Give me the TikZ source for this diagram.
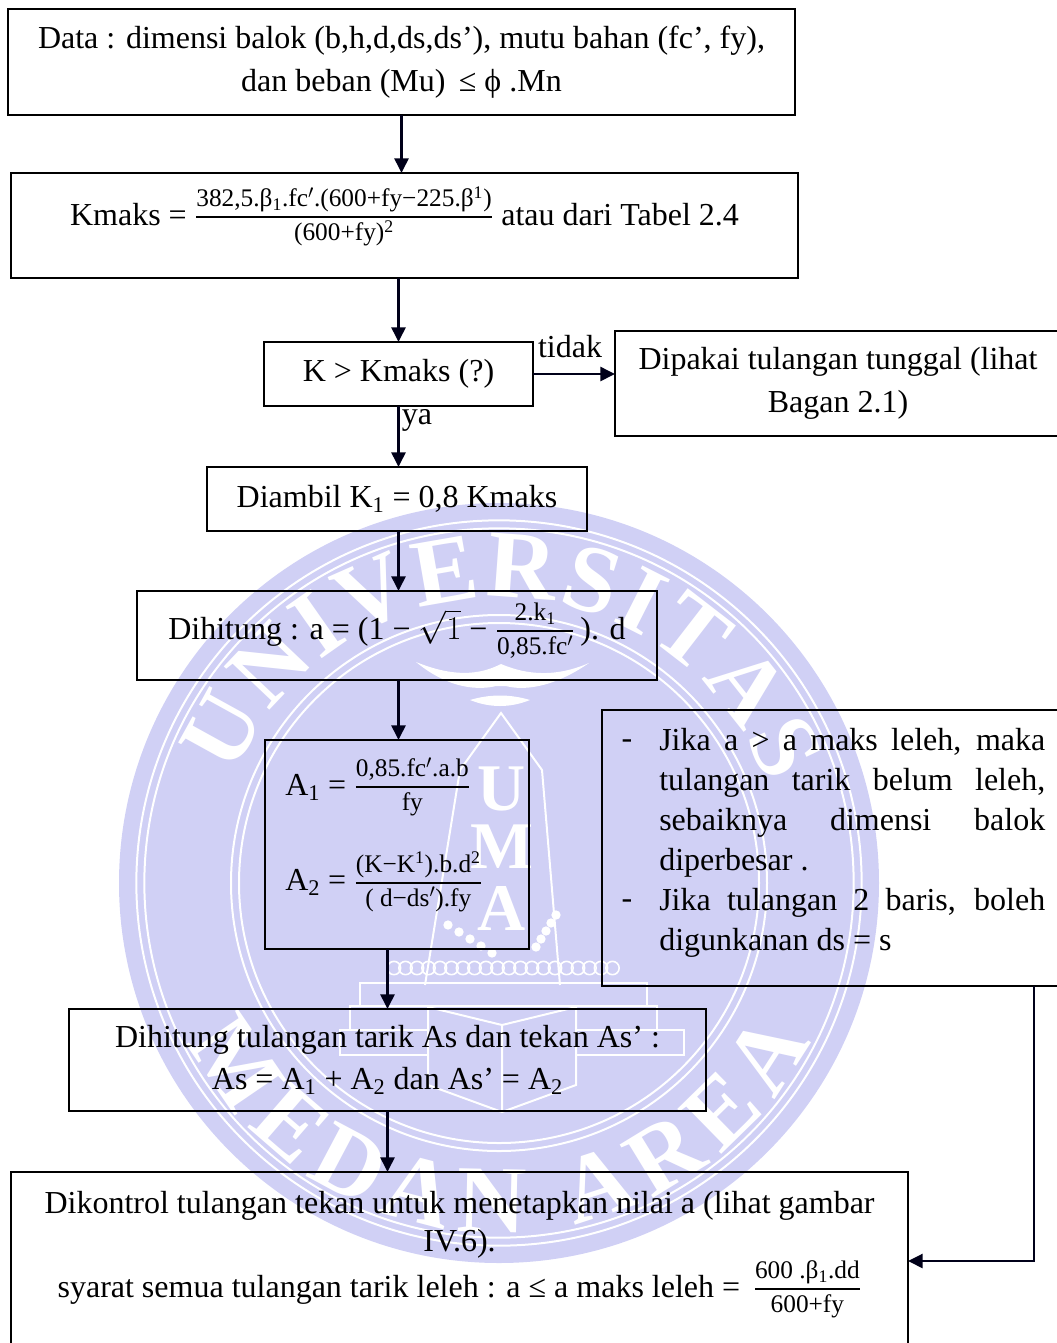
\documentclass[tikz,border=0pt]{standalone}
\usepackage{amsmath,amssymb}
\usepackage{fontspec}
\setmainfont{Liberation Serif}
\usepackage{tikz}
\usetikzlibrary{arrows.meta}
\usetikzlibrary{decorations.text}
\definecolor{wmbiru}{HTML}{D0D0F5}
\newcommand{\teks}{\fontsize{24}{32}\selectfont}
\newcommand{\kecil}{\fontsize{19}{22}\selectfont}
\newcommand{\wmhuruf}{\fontsize{72}{80}\selectfont\bfseries\color{white}}
\newcommand{\pecah}[2]{$\genfrac{}{}{1.5pt}{1}{\mbox{\kecil\rule[-5.5pt]{0pt}{5pt}#1}}{\mbox{\kecil\rule{0pt}{15.5pt}#2}}$}
\newcommand{\naik}[2]{\raisebox{#1}[0pt][0pt]{#2}}
\tikzstyle{kotak}=[draw=black,line width=.8pt,inner sep=0pt,outer sep=0pt,align=center,font=\teks]
\tikzstyle{tulisan}=[inner sep=0pt,font=\teks]
\tikzstyle{catatanteks}=[inner sep=0pt,anchor=north west,text width=289.5pt,align=justify,font=\fontsize{24}{30}\selectfont]
\tikzstyle{panah}=[-{Triangle[length=11pt,width=10.5pt]},line width=1.9pt,black!90!blue]
\tikzstyle{wmgaris}=[draw=white,line width=1.5pt]
\begin{document}
\begin{tikzpicture}[x=.75pt,y=-.75pt]
  \useasboundingbox (0,0) rectangle (1057,1343);
  % watermark
  \coordinate (wmpusat) at (499,883);
  \fill[wmbiru] (wmpusat) circle[radius=285pt];
  \draw[wmgaris] (wmpusat) circle[radius=272pt] (wmpusat) circle[radius=266pt];
  \draw[wmgaris] (wmpusat) circle[radius=195pt] (wmpusat) circle[radius=201pt];
  \path[decorate,decoration={text along path,text align=fit to path,
    text={|\wmhuruf|UNIVERSITAS}}]
    ([shift={(158:214pt)}]wmpusat) arc[start angle=158,end angle=20,radius=214pt];
  \path[decorate,decoration={text along path,text align=fit to path,
    text={|\wmhuruf|MEDAN AREA}}]
    ([shift={(207:262pt)}]wmpusat) arc[start angle=207,end angle=333,radius=262pt];
  \draw[wmgaris] (425,985) -- (460,770) -- (501,713) -- (542,770) -- (560,985);
  \fill[white] (416,662) .. controls (460,680) and (485,672) .. (501,664)
    .. controls (520,672) and (550,680) .. (589,663)
    .. controls (550,690) and (520,690) .. (506,686) -- (496,686)
    .. controls (480,690) and (450,690) .. (416,662);
  \fill[white] (470,700) .. controls (490,694) and (510,694) .. (530,700)
    .. controls (510,708) and (490,708) .. (470,700);
  \foreach \h/\y in {U/789,M/847,A/908}{
    \node[font=\fontsize{50}{50}\selectfont\bfseries,text=white,inner sep=0pt] (wm\h) at (502,\y) {\h};
  }
  \foreach \i in {0,1,...,19}{
    \draw[white,line width=1.2pt] (394+\i*11.5,968) circle[radius=5pt];
  }
  \foreach \i in {0,1,2,3,4}{
    \fill[white] (448+\i*11,925+\i*7) circle[radius=3.5pt];
    \fill[white] (556-\i*5,915+\i*8) circle[radius=3.5pt];
  }
  \draw[wmgaris] (360,1006) rectangle (647,983) (350,1030) rectangle (657,1006)
    (340,1055) rectangle (684,1030);
  \fill[wmbiru] (428,1007) -- (502,1025) -- (576,1007) -- (576,1085) -- (502,1112) -- (428,1085) -- cycle;
  \draw[wmgaris] (428,1007) -- (502,1025) -- (576,1007) -- (576,1085) -- (502,1112) -- (428,1085) -- cycle (502,1025) -- (502,1112);

  % kotak
  \node[kotak,minimum width=590.25pt,minimum height=79.5pt] (data) at (401.5,62)
    {Data : dimensi balok (b,h,d,ds,ds’), mutu bahan (fc’, fy),\\ dan beban (Mu) \,≤ ϕ .Mn};
  \node[kotak,minimum width=590.25pt,minimum height=78.75pt] (kmaks) at (404.5,225.5)
    {\naik{0pt}{Kmaks = \pecah{382,5.β\textsubscript{1}.fc$'$.(600+fy−225.β\textsuperscript{1})}{(600+fy)\textsuperscript{2}} atau dari Tabel 2.4}};
  \node[kotak,minimum width=201.75pt,minimum height=48pt] (cek) at (398.5,374) {K > Kmaks (?)};
  \node[kotak,minimum width=334.5pt,minimum height=78.75pt] (tunggal) at (838,383.5)
    {Dipakai tulangan tunggal (lihat\\ Bagan 2.1)};
  \node[kotak,minimum width=285pt,minimum height=48pt] (diambil) at (397,499)
    {Diambil K\textsubscript{1} = 0,8 Kmaks};
  \node[kotak,minimum width=390pt,minimum height=66.75pt] (dihitung) at (397,635.5)
    {\naik{-3pt}{Dihitung : a = (1 − $\sqrt{1}$ − \pecah{2.k\textsubscript{1}}{0,85.fc$'$}\,). d}};
  \node[kotak,minimum width=198pt,minimum height=156.75pt] (rumus) at (397,844.5) {};
  \node[tulisan,anchor=west] (rumusA) at (285,787)
    {A\textsubscript{1} = \pecah{0,85.fc$'$.a.b}{fy}};
  \node[tulisan,anchor=west] (rumusB) at (285,882)
    {A\textsubscript{2} = \pecah{(K−K\textsuperscript{1}).b.d\textsuperscript{2}}{( d−ds$'$).fy}};
  \node[kotak,minimum width=345pt,minimum height=207pt] (catatan) at (832,848) {};
  \node[tulisan] (strip1) at (627,744) {-};
  \node[tulisan] (strip2) at (627,904) {-};
  \node[catatanteks] (catatan1) at (659,728)
    {Jika a > a maks leleh, maka\linebreak tulangan tarik belum leleh,\linebreak sebaiknya dimensi balok\linebreak diperbesar .};
  \node[catatanteks] (catatan2) at (659,888)
    {Jika tulangan 2 baris, boleh\linebreak digunkanan ds = s};
  \node[kotak,minimum width=477.75pt,minimum height=76.5pt] (hitungas) at (387.5,1060)
    {Dihitung tulangan tarik As dan tekan As’ :\\ As = A\textsubscript{1} + A\textsubscript{2} dan As’ = A\textsubscript{2}};
  \node[kotak,minimum width=672.75pt,minimum height=133.5pt,font=\fontsize{24}{28.5}\selectfont] (kontrol) at (459.5,1261)
    {Dikontrol tulangan tekan untuk menetapkan nilai a (lihat gambar\\
     IV.6).\\[1pt]
     syarat semua tulangan tarik leleh : a ≤ a maks leleh = \,\pecah{600 .β\textsubscript{1}.dd}{600+fy}\\[-3pt]\mbox{}};
  \node[tulisan] (tidak) at (570,347) {tidak};
  \node[tulisan] (ya) at (417,420) {ya};
  \coordinate (tikungan) at (1034,1261);

  % panah
  \draw[panah] (data.south) -- (data.south |- kmaks.north);
  \draw[panah] (kmaks.south -| cek.north) -- (cek.north);
  \draw[panah] (cek.south) -- (cek.south |- diambil.north);
  \draw[panah] (cek.south |- diambil.south) -- (cek.south |- dihitung.north);
  \draw[panah] (cek.south |- dihitung.south) -- (cek.south |- rumus.north);
  \draw[panah] (rumus.south -| hitungas.north) -- (hitungas.north);
  \draw[panah] (hitungas.south) -- (hitungas.south |- kontrol.north);
  \draw[panah] (cek.east) -- (cek.east -| tunggal.west);
  \draw[panah] (catatan.south -| tikungan) |- (kontrol.east);
\end{tikzpicture}
\end{document}
